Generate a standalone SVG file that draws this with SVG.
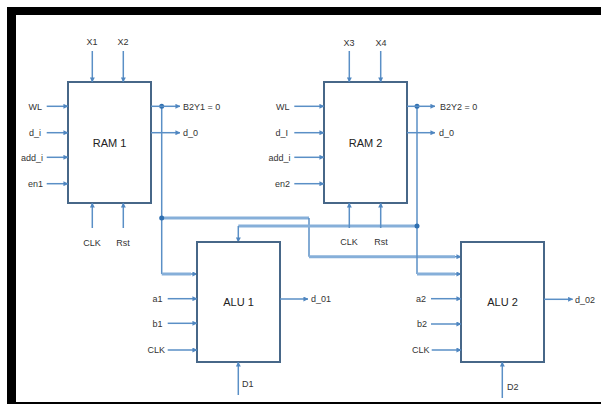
<svg xmlns="http://www.w3.org/2000/svg" width="601" height="405" viewBox="0 0 601 405">
<defs>
<marker id="ah" viewBox="0 0 6 6" refX="5.5" refY="3" markerWidth="5" markerHeight="5" markerUnits="userSpaceOnUse" orient="auto">
<path d="M0,0 L6,3 L0,6 z" fill="#4f86c0"/>
</marker>
</defs>
<style>
.box{fill:#fff;stroke:#476788;stroke-width:2}
.w{stroke:#5a8fc6;stroke-width:1.5;fill:none}
.bus{stroke:#86afd9;stroke-width:3;fill:none}
.a{marker-end:url(#ah)}
.t{font-family:"Liberation Sans Narrow","Liberation Sans",Arial,sans-serif;font-size:9px;fill:#333}
.e{text-anchor:end}
.m{text-anchor:middle}
.lb{font-family:"Liberation Sans",Arial,sans-serif;font-size:11px;fill:#222;text-anchor:middle}
.dot{fill:#2f6fb0}
</style>
<rect width="601" height="405" fill="#fff"/>
<rect x="7" y="7" width="594" height="8" fill="#000"/>
<rect x="7" y="7" width="9" height="397" fill="#000"/>
<rect x="7" y="402" width="594" height="2" fill="#000"/>

<g id="connectors">
<path class="bus" d="M161.7,218 H309"/>
<path class="w" d="M309,218 V256.7"/>
<path class="bus" d="M309,256.7 H455"/>
<path class="w a" d="M455,256.7 H461"/>
<path class="bus" d="M417,226 H238.3"/>
<path class="w a" d="M238.3,226 V242"/>
<path class="w" d="M161.7,106 V274"/>
<path class="bus" d="M161.7,274 H191"/>
<path class="w a" d="M191,274 H197"/>
<path class="w" d="M417,106 V274"/>
<path class="bus" d="M417,274 H455"/>
<path class="w a" d="M455,274 H461"/>
<circle class="dot" cx="161.7" cy="106.3" r="2.5"/>
<circle class="dot" cx="161.7" cy="218" r="2.5"/>
<circle class="dot" cx="417" cy="106.3" r="2.5"/>
<circle class="dot" cx="417" cy="226" r="2.5"/>
</g>

<g id="ram1">
<rect class="box" x="68" y="82" width="83" height="121"/>
<text class="lb" x="109.5" y="147">RAM 1</text>
<path class="w a" d="M92.3,51 V82"/>
<path class="w a" d="M123.3,51 V82"/>
<text class="t m" x="92" y="45">X1</text>
<text class="t m" x="123" y="45">X2</text>
<path class="w a" d="M46.7,106.3 H68"/>
<path class="w a" d="M46.7,132.7 H68"/>
<path class="w a" d="M46.7,157.3 H68"/>
<path class="w a" d="M46.7,183.7 H68"/>
<text class="t e" x="42" y="109.5">WL</text>
<text class="t e" x="41" y="136">d_i</text>
<text class="t e" x="43" y="160.5">add_i</text>
<text class="t e" x="43" y="187">en1</text>
<path class="w a" d="M151,106.3 H180"/>
<path class="w a" d="M151,132.7 H180"/>
<text class="t" x="183" y="109.5">B2Y1 = 0</text>
<text class="t" x="183" y="136">d_0</text>
<path class="w a" d="M92.3,228 V203"/>
<path class="w a" d="M123.3,228 V203"/>
<text class="t m" x="92" y="246">CLK</text>
<text class="t m" x="123" y="246">Rst</text>
</g>

<g id="ram2">
<rect class="box" x="324" y="82" width="83" height="121"/>
<text class="lb" x="365.5" y="147">RAM 2</text>
<path class="w a" d="M349.3,51 V82"/>
<path class="w a" d="M380.7,51 V82"/>
<text class="t m" x="349" y="46">X3</text>
<text class="t m" x="381" y="46">X4</text>
<path class="w a" d="M294.3,106.3 H324"/>
<path class="w a" d="M294.3,132.7 H324"/>
<path class="w a" d="M294.3,157.3 H324"/>
<path class="w a" d="M294.3,183.7 H324"/>
<text class="t e" x="289.5" y="109.5">WL</text>
<text class="t e" x="288" y="136">d_I</text>
<text class="t e" x="290.5" y="160.5">add_i</text>
<text class="t e" x="290" y="187">en2</text>
<path class="w a" d="M407,106.3 H435"/>
<path class="w a" d="M407,132.7 H435"/>
<text class="t" x="440" y="109.5">B2Y2 = 0</text>
<text class="t" x="439" y="136">d_0</text>
<path class="w a" d="M349.3,228 V203"/>
<path class="w a" d="M380.7,228 V203"/>
<text class="t m" x="349" y="245">CLK</text>
<text class="t m" x="381" y="245">Rst</text>
</g>

<g id="alu1">
<rect class="box" x="197" y="242" width="83" height="120"/>
<text class="lb" x="238.5" y="306">ALU 1</text>
<path class="w a" d="M167.7,298.7 H197"/>
<path class="w a" d="M167.7,323.3 H197"/>
<path class="w a" d="M167.7,350 H197"/>
<text class="t e" x="162.5" y="302">a1</text>
<text class="t e" x="162.5" y="326.5">b1</text>
<text class="t e" x="165" y="353">CLK</text>
<path class="w a" d="M280,299 H308"/>
<text class="t" x="311" y="302">d_01</text>
<path class="w a" d="M238.3,395 V362"/>
<text class="t" x="242" y="387">D1</text>
</g>

<g id="alu2">
<rect class="box" x="461" y="242" width="83" height="120"/>
<text class="lb" x="502.5" y="306">ALU 2</text>
<path class="w a" d="M431,298.7 H461"/>
<path class="w a" d="M431,324 H461"/>
<path class="w a" d="M431.7,350 H461"/>
<text class="t e" x="426" y="302">a2</text>
<text class="t e" x="427" y="327">b2</text>
<text class="t e" x="429.5" y="353">CLK</text>
<path class="w a" d="M544,299.3 H572.7"/>
<text class="t" x="575" y="302.5">d_02</text>
<path class="w a" d="M502.3,398 V362"/>
<text class="t" x="507" y="390">D2</text>
</g>
</svg>
